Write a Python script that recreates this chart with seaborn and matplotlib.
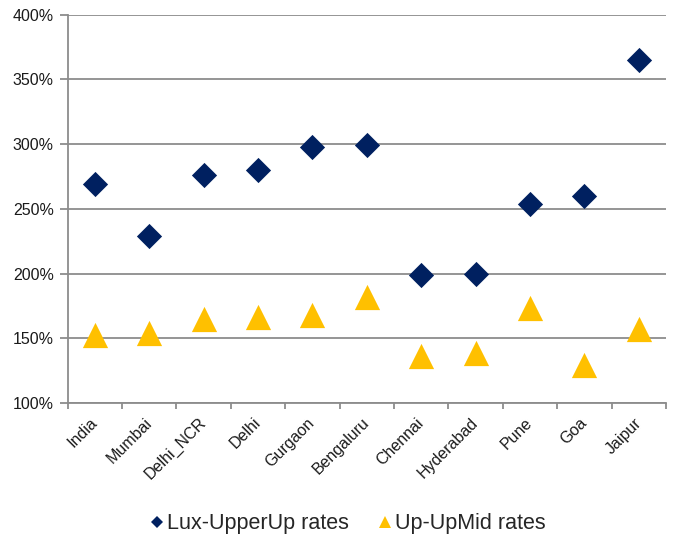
import matplotlib
matplotlib.use("Agg")
import matplotlib.pyplot as plt
import seaborn as sns
import pandas as pd
from matplotlib.ticker import FuncFormatter, FixedLocator
from matplotlib.transforms import ScaledTranslation

cities = ["India", "Mumbai", "Delhi_NCR", "Delhi", "Gurgaon", "Bengaluru",
          "Chennai", "Hyderabad", "Pune", "Goa", "Jaipur"]
lux_upperup = [269, 229, 276, 280, 298, 299.5, 199, 199.5, 254, 260, 365]
up_upmid = [152.5, 154, 165, 166.5, 168, 182, 136, 139, 173.5, 129, 157]

series_names = ["Lux-UpperUp rates", "Up-UpMid rates"]
series_colors = ["#002060", "#FFC000"]

df = pd.DataFrame({
    "city": cities * 2,
    "x": list(range(len(cities))) * 2,
    "rate": lux_upperup + up_upmid,
    "series": [series_names[0]] * len(cities) + [series_names[1]] * len(cities),
})

sns.set_theme(style="white")
plt.rcParams["font.family"] = ["Liberation Sans", "DejaVu Sans"]

fig = plt.figure(figsize=(6.73, 5.36), dpi=100)
ax = fig.add_axes([0.1006, 0.2481, 0.8890, 0.7245])

grid_c = "#8c8c8c"
for val in range(100, 401, 50):
    ax.axhline(val, color=grid_c, lw=1.3, zorder=0)

sns.scatterplot(data=df[df.series == series_names[0]], x="x", y="rate",
                marker="D", color=series_colors[0], s=165, linewidth=0,
                ax=ax, zorder=3, legend=False)
sns.scatterplot(data=df[df.series == series_names[1]], x="x", y="rate",
                marker="^", color=series_colors[1], s=330, linewidth=0,
                ax=ax, zorder=3, legend=False)

ax.set_xlim(-0.5, len(cities) - 0.5)
ax.set_ylim(100, 400)
ax.set_xlabel("")
ax.set_ylabel("")

ax.yaxis.set_major_locator(FixedLocator(range(100, 401, 50)))
ax.yaxis.set_major_formatter(FuncFormatter(lambda v, p: f"{v:.0f}%"))
ax.set_xticks(range(len(cities)))
ax.set_xticklabels(cities, rotation=45, ha="right", va="center",
                   rotation_mode="anchor")
shift = ScaledTranslation(5 / 100, 0, fig.dpi_scale_trans)
for lbl in ax.get_xticklabels():
    lbl.set_transform(lbl.get_transform() + shift)
ax.xaxis.set_minor_locator(FixedLocator([i - 0.5 for i in range(len(cities) + 1)]))
ax.tick_params(axis="x", which="major", length=0, pad=12.5, labelsize=11.5,
               colors="#1a1a1a")
ax.tick_params(axis="x", which="minor", length=4, width=1.3, color=grid_c,
               bottom=True)
ax.tick_params(axis="y", length=6, width=1.3, color=grid_c, pad=4,
               labelsize=11.5, left=True, labelcolor="#1a1a1a")

for side in ["top", "right"]:
    ax.spines[side].set_visible(False)
for side in ["left", "bottom"]:
    ax.spines[side].set_color(grid_c)
    ax.spines[side].set_linewidth(1.3)

handles = [
    plt.Line2D([], [], marker="D", color=series_colors[0], ls="", ms=6.5, mew=0),
    plt.Line2D([], [], marker="^", color=series_colors[1], ls="", ms=9, mew=0),
]
fig.legend(handles, series_names, loc="center", bbox_to_anchor=(0.518, 1 - 524 / 536),
           ncol=2, frameon=False, fontsize=15.5, handlelength=0.5, handletextpad=0.25,
           columnspacing=1.4)

fig.savefig("out.png", dpi=100)
